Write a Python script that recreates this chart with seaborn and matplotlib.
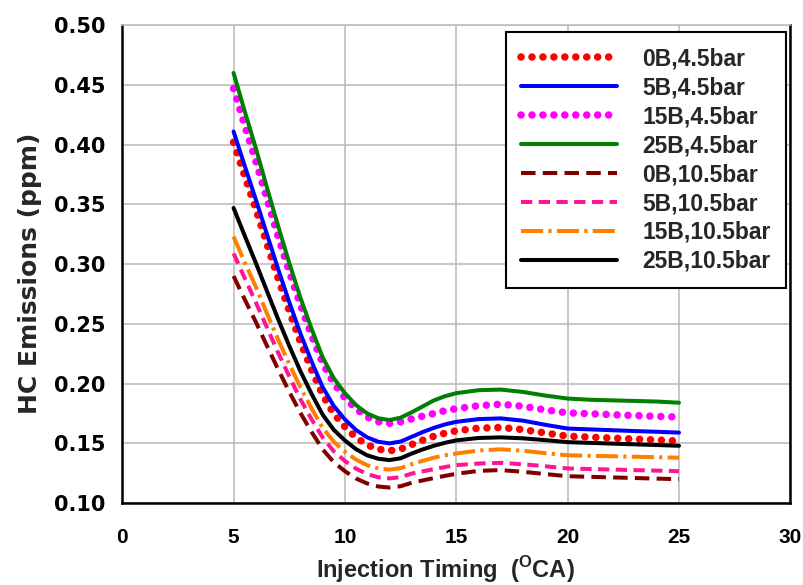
"""
HC emissions vs injection timing for blends at two loads.
"""
import matplotlib
matplotlib.use("Agg")
import matplotlib.pyplot as plt
from matplotlib.ticker import MultipleLocator, FormatStrFormatter
import seaborn as sns

# Injection timing (deg CA)
injection_timing = [5, 5.5, 6, 6.5, 7, 7.5, 8, 8.5, 9, 9.5, 10, 10.5, 11, 11.5,
                    12, 12.5, 13, 13.5, 14, 14.5, 15,
                    16, 17, 18, 19, 20, 21, 22, 23, 24, 25]

hc_0b_45 = [0.402, 0.3736, 0.346, 0.3168, 0.288, 0.2608, 0.235, 0.2117, 0.1905, 0.1748,
            0.1638, 0.1549, 0.1487, 0.1451, 0.1438, 0.1452, 0.149, 0.1527, 0.156, 0.1585,
            0.1605, 0.1627, 0.1633, 0.1615, 0.1587, 0.156, 0.1552, 0.1544, 0.1536, 0.1528, 0.152]
hc_5b_45 = [0.411, 0.3823, 0.354, 0.3249, 0.296, 0.2682, 0.242, 0.2186, 0.197, 0.1813,
            0.170, 0.1612, 0.155, 0.1513, 0.150, 0.1515, 0.1555, 0.1595, 0.163, 0.1659,
            0.168, 0.1703, 0.1709, 0.169, 0.1655, 0.1624, 0.1617, 0.161, 0.1603, 0.1597, 0.159]
hc_15b_45 = [0.447, 0.416, 0.386, 0.3545, 0.323, 0.2937, 0.266, 0.2404, 0.217, 0.2003,
             0.188, 0.1788, 0.172, 0.1681, 0.1667, 0.168, 0.1705, 0.1728, 0.175, 0.1774,
             0.179, 0.1815, 0.1828, 0.181, 0.178, 0.1755, 0.1748, 0.174, 0.1733, 0.1726, 0.172]
hc_25b_45 = [0.460, 0.428, 0.397, 0.364, 0.332, 0.301, 0.272, 0.246, 0.222, 0.2045,
             0.192, 0.182, 0.175, 0.171, 0.1695, 0.1715, 0.176, 0.181, 0.186, 0.1895,
             0.192, 0.1945, 0.195, 0.193, 0.190, 0.1875, 0.1865, 0.186, 0.1855, 0.185, 0.184]
hc_0b_105 = [0.290, 0.2705, 0.2516, 0.2316, 0.212, 0.1932, 0.1755, 0.1596, 0.145, 0.1342,
             0.1267, 0.1206, 0.1164, 0.1139, 0.113, 0.1141, 0.117, 0.119, 0.121, 0.1228,
             0.1245, 0.127, 0.1276, 0.1262, 0.1243, 0.1225, 0.122, 0.1215, 0.121, 0.1205, 0.120]
hc_5b_105 = [0.309, 0.2883, 0.268, 0.2469, 0.226, 0.206, 0.187, 0.1702, 0.155, 0.1433,
             0.1353, 0.1288, 0.1243, 0.1216, 0.1207, 0.1217, 0.1247, 0.1266, 0.1284, 0.1302,
             0.1318, 0.1331, 0.1337, 0.1325, 0.1308, 0.129, 0.1285, 0.1281, 0.1276, 0.1272, 0.1267]
hc_15b_105 = [0.323, 0.3016, 0.281, 0.2587, 0.237, 0.2163, 0.197, 0.1793, 0.163, 0.1514,
              0.143, 0.1364, 0.1317, 0.129, 0.128, 0.1293, 0.1325, 0.1354, 0.138, 0.140,
              0.1415, 0.144, 0.145, 0.1438, 0.1418, 0.140, 0.1396, 0.1392, 0.1388, 0.1384, 0.138]
hc_25b_105 = [0.347, 0.3238, 0.301, 0.2774, 0.254, 0.2316, 0.2105, 0.1915, 0.174, 0.1613,
              0.1524, 0.1451, 0.140, 0.1371, 0.136, 0.1375, 0.1415, 0.145, 0.148, 0.1505,
              0.1525, 0.1545, 0.155, 0.1542, 0.1527, 0.151, 0.1504, 0.1498, 0.1492, 0.1486, 0.148]

series_labels = ["0B,4.5bar", "5B,4.5bar", "15B,4.5bar", "25B,4.5bar",
                 "0B,10.5bar", "5B,10.5bar", "15B,10.5bar", "25B,10.5bar"]
series_values = [hc_0b_45, hc_5b_45, hc_15b_45, hc_25b_45,
                 hc_0b_105, hc_5b_105, hc_15b_105, hc_25b_105]

# line styles (colour, linestyle, width, capstyle)
dotted = (0, (0.01, 1.45))
styles = [
    ("#FF0000", dotted, 5.4, "round"),
    ("#0000FF", "-", 2.9, "butt"),
    ("#FF00FF", dotted, 5.4, "round"),
    ("#008000", "-", 2.9, "butt"),
    ("#800000", (0, (3.6, 1.8)), 2.9, "butt"),
    ("#FF1493", (0, (2.8, 1.6)), 2.9, "butt"),
    ("#FF8000", (0, (5.5, 1.3, 0.8, 1.3)), 2.9, "butt"),
    ("#000000", "-", 2.9, "butt"),
]

sns.set_style("white")
plt.rcParams["font.family"] = ["Liberation Sans", "DejaVu Sans"]
plt.rcParams["font.weight"] = "bold"
plt.rcParams["mathtext.fontset"] = "custom"
plt.rcParams["mathtext.rm"] = "Liberation Sans:bold"
plt.rcParams["mathtext.bf"] = "Liberation Sans:bold"

fig, ax = plt.subplots(figsize=(8.04, 5.85), dpi=100)
fig.subplots_adjust(left=0.152, right=0.983, top=0.957, bottom=0.140)

for label, values, (color, ls, lw, cap) in zip(series_labels, series_values, styles):
    sns.lineplot(x=injection_timing, y=values, ax=ax, color=color,
                 linestyle=ls, linewidth=lw, label=label)
    ax.lines[-1].set_dash_capstyle(cap)

ax.set_xlim(0, 30)
ax.set_ylim(0.10, 0.50)
ax.xaxis.set_major_locator(MultipleLocator(5))
ax.xaxis.set_minor_locator(MultipleLocator(1))
ax.yaxis.set_major_locator(MultipleLocator(0.05))
ax.yaxis.set_minor_locator(MultipleLocator(0.005))
ax.yaxis.set_major_formatter(FormatStrFormatter("%.2f"))

ax.grid(True, which="major", color="#BDBDBD", linewidth=1.2)
ax.set_axisbelow(True)

for side in ["left", "bottom", "right"]:
    ax.spines[side].set_color("black")
    ax.spines[side].set_linewidth(1.8)
ax.spines["top"].set_color("#BDBDBD")
ax.spines["top"].set_linewidth(1.2)

ax.tick_params(axis="both", which="major", direction="inout", length=8, width=1.5,
               colors="black")
ax.tick_params(axis="both", which="minor", direction="out", length=4, width=1.2)
ax.tick_params(axis="x", which="major", pad=14)
ax.tick_params(axis="y", which="major", pad=8)
ax.tick_params(right=False, top=False, which="both")
for lab in ax.get_xticklabels():
    lab.set_fontweight("bold")
    lab.set_fontsize(15)
for lab in ax.get_yticklabels():
    lab.set_fontweight("bold")
    lab.set_fontsize(15)
    lab.set_fontfamily("DejaVu Sans")

ax.set_xlabel(r"Injection Timing  ($^{\mathrm{O}}$CA)", fontsize=17, fontweight="bold")
ax.xaxis.set_label_coords(0.483, -0.106)
ax.set_ylabel("HC Emissions (ppm)", fontsize=18, fontweight="bold",
              fontfamily="DejaVu Sans")
ax.yaxis.set_label_coords(-0.12, 0.48)

leg = ax.legend(loc="upper right", bbox_to_anchor=(0.993, 0.985), borderaxespad=0,
                frameon=True, fancybox=False, shadow=False, handlelength=4.2,
                handletextpad=1.1, labelspacing=0.26, borderpad=0.65,
                prop={"weight": "bold", "size": 16.5})
leg.get_frame().set_edgecolor("black")
leg.get_frame().set_linewidth(1.5)
leg.get_frame().set_alpha(1)
for h in leg.get_lines():
    h.set_dash_capstyle("round" if h.get_color() in ("#FF0000", "#FF00FF") else "butt")

plt.savefig("out.png", dpi=100)
